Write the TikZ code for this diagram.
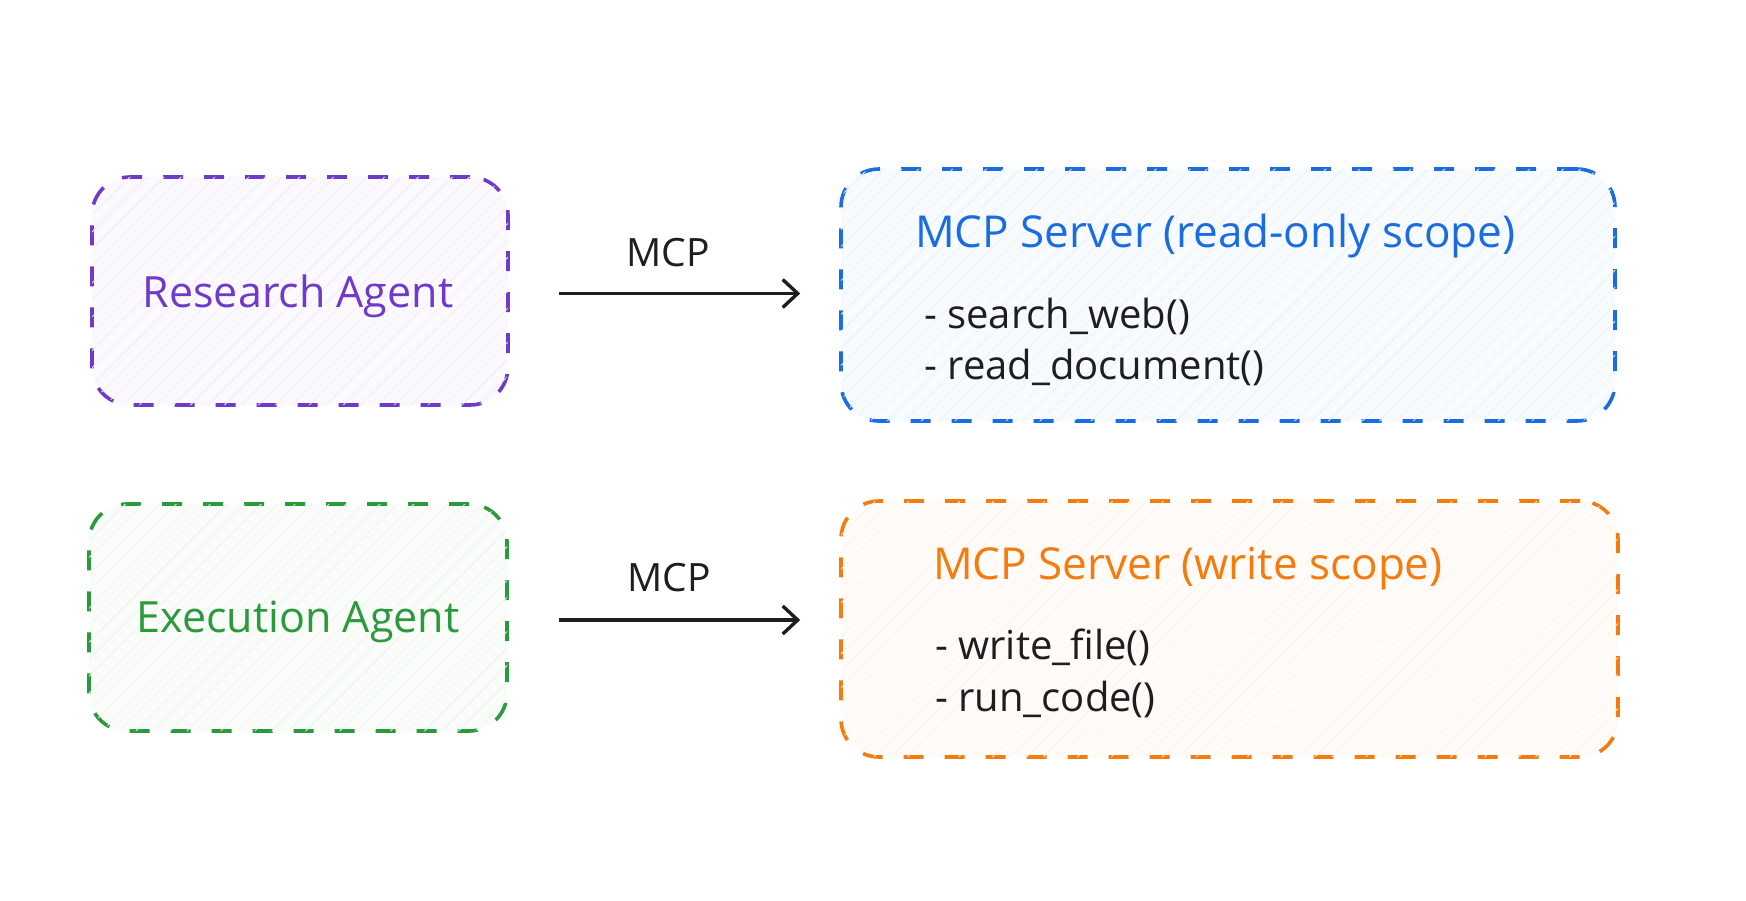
\documentclass[tikz,border=0pt]{standalone}
\usepackage{fontspec}
\setmainfont{Open Sans}
\usetikzlibrary{arrows.meta,patterns.meta}
\definecolor{cpurple}{HTML}{6F3AC9}
\definecolor{cblue}{HTML}{1A6DE0}
\definecolor{cgreen}{HTML}{2A9A3C}
\definecolor{corange}{HTML}{F47C0E}
\definecolor{cink}{HTML}{1E1E1E}
\tikzset{
  box/.style={draw=#1, line width=3.6pt, dash pattern=on 20pt off 21pt, rounded corners=38pt,
    fill=#1!3, postaction={pattern={Lines[angle=45,distance=12pt,line width=0.8pt]}, pattern color=#1!9},
    inner sep=0pt},
  agentlbl/.style={text=#1, font=\fontsize{43}{50}\selectfont},
  titlelbl/.style={text=#1, font=\fontsize{44}{50}\selectfont, anchor=west, inner sep=0pt},
  itemlbl/.style={text=cink, font=\fontsize{40}{46}\selectfont, anchor=west, inner sep=0pt},
  arr/.style={draw=cink, line width=3.4pt, -{Straight Barb[length=15pt,width=28pt,line width=3.4pt]}},
  mcplbl/.style={text=cink, font=\fontsize{39}{46}\selectfont}
}
\begin{document}
\begin{tikzpicture}[x=1pt,y=-1pt]
\useasboundingbox[fill=white] (0,0) rectangle (1746,901);
% boxes
\node[box=cpurple, minimum width=416pt, minimum height=228pt] (ra) at (300,291) {};
\node[box=cblue, minimum width=774pt, minimum height=252pt] (s1) at (1228,295) {};
\node[box=cgreen, minimum width=418pt, minimum height=227pt] (ea) at (298,617.5) {};
\node[box=corange, minimum width=777pt, minimum height=256pt] (s2) at (1229.5,629) {};
% labels
\node[agentlbl=cpurple] (ral) at (298,296) {Research Agent};
\node[agentlbl=cgreen] (eal) at (298,622) {Execution Agent};
\node[titlelbl=cblue] (s1t) at (915,236) {MCP Server (read-only scope)};
\node[itemlbl] (s1a) at (924,316) {- search\_web()};
\node[itemlbl] (s1b) at (924,367) {- read\_document()};
\node[titlelbl=corange] (s2t) at (933,569) {MCP Server (write scope)};
\node[itemlbl] (s2a) at (935,647) {- write\_file()};
\node[itemlbl] (s2b) at (935,699) {- run\_code()};
% arrows
\coordinate (a1) at ([yshift=-2.5pt]ra.east);
\coordinate (a2) at ([yshift=-2.5pt]ea.east);
\draw[arr, shorten <=49pt, shorten >=39pt] (a1) -- (a1 -| s1.west);
\draw[arr, shorten <=50pt, shorten >=39pt] (a2) -- (a2 -| s2.west);
\node[mcplbl] (m1) at (668,253) {MCP};
\node[mcplbl] (m2) at (669,578) {MCP};
\end{tikzpicture}
\end{document}
